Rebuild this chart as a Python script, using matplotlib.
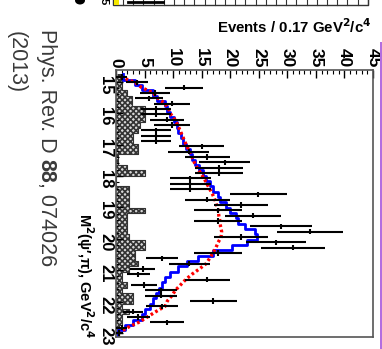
import numpy as np
import matplotlib
matplotlib.use("Agg")
import matplotlib.pyplot as plt
from matplotlib.patches import Rectangle, Ellipse
from matplotlib.lines import Line2D

plt.rcParams['font.family'] = ['Liberation Sans', 'DejaVu Sans']
plt.rcParams['hatch.linewidth'] = 1.2

# ---- data (M^2 bins of 0.17 GeV^2/c^4) ----
first_center = 14.84
bin_width = 0.17
data_counts = [1.0, 3.7, 11.9, 6.8, 5.8, 9.8, 7.0, 7.0, 8.9, 9.8,
               7.0, 7.0, 7.0, 15.0, 12.7, 16.0, 19.0, 18.0, 18.0, 13.0,
               13.0, 13.0, 24.9, 16.0, 21.9, 17.9, 24.0, 17.9, 28.9, 34.0,
               21.9, 28.0, 31.0, 17.9, 8.0, 12.8, 4.7, 3.9, 16.0, 4.9,
               7.9, 7.9, 17.0, 8.0, 3.0, 3.9, 8.9, 1.0, 0.5]
data_errors = [1.0, 1.9, 3.4, 2.6, 2.4, 3.1, 2.6, 2.6, 3.0, 3.1,
               2.6, 2.6, 2.6, 3.9, 3.6, 4.0, 4.4, 4.2, 4.2, 3.6,
               3.6, 3.6, 5.0, 4.0, 4.7, 4.2, 4.9, 4.2, 5.4, 5.8,
               4.7, 5.3, 5.6, 4.2, 2.8, 3.6, 2.2, 2.0, 4.0, 2.2,
               2.8, 2.8, 4.1, 2.8, 1.7, 2.0, 3.0, 1.0, 0.7]
background = [0.7, 1.0, 1.0, 2.0, 2.8, 2.8, 5.1, 5.1, 5.1, 4.2,
              3.9, 3.0, 3.0, 3.9, 3.9, 0.4, 0.4, 2.0, 5.0, 0.0,
              0.0, 2.2, 2.2, 2.2, 2.2, 5.0, 2.0, 2.0, 2.0, 2.0,
              2.3, 5.0, 5.0, 3.3, 3.3, 3.9, 2.2, 1.0, 1.0, 2.0,
              1.0, 3.0, 3.0, 1.0, 2.2, 1.0, 1.0, 0.5, 0.5]
fit_blue = [1.2, 3.3, 4.5, 6.5, 7.2, 8.5, 9.0, 9.5, 10.2, 10.6,
            10.9, 11.3, 11.7, 12.3, 13.0, 13.3, 13.8, 14.5, 15.2, 15.8,
            16.5, 17.0, 17.8, 18.2, 19.2, 20.0, 21.0, 21.4, 22.6, 24.3,
            24.7, 23.0, 20.3, 17.0, 14.4, 12.4, 10.8, 9.5, 8.5, 8.0,
            7.5, 7.0, 6.5, 6.0, 5.0, 4.5, 3.0, 1.5, 0.3]
fit_red = [0.8, 3.3, 4.5, 6.5, 7.3, 8.6, 9.2, 9.6, 10.3, 10.8,
           11.2, 11.6, 12.0, 12.4, 12.9, 13.3, 13.7, 14.2, 14.8, 15.4,
           15.9, 16.4, 16.9, 17.3, 17.6, 17.9, 18.0, 18.2, 18.3, 18.5,
           18.4, 17.9, 17.5, 17.0, 16.4, 15.8, 14.6, 13.3, 12.2, 11.3,
           10.4, 9.8, 9.0, 8.6, 7.0, 5.5, 4.0, 2.0, 0.5]
m2_ticks = [15, 16, 17, 18, 19, 20, 21, 22, 23]
ev_ticks = [0, 5, 10, 15, 20, 25, 30, 35, 40, 45]

n = len(data_counts)
centers = first_center + bin_width * np.arange(n)
edges = np.concatenate([centers - bin_width / 2, [centers[-1] + bin_width / 2]])

def step_xy(vals):
    ys = np.repeat(edges, 2)[1:-1]
    xs = np.repeat(np.asarray(vals, float), 2)
    return xs, ys

W, H = 382, 349
fig = plt.figure(figsize=(W / 100, H / 100), dpi=100)

x0, x1 = 116, 373
y0, y1 = 70, 337
ax = fig.add_axes([x0 / W, 1 - y1 / H, (x1 - x0) / W, (y1 - y0) / H])
ax.set_xlim(0, 45)
ax.set_ylim(23.13, 14.62)

# background hatched histogram
bx, by = step_xy(background)
ax.fill_betweenx(by, 0, bx, facecolor='#d8d8d8', edgecolor='#333333',
                 hatch='xxxxxx', linewidth=0, zorder=1)
ax.plot(bx, by, color='#333333', lw=0.8, zorder=1.5)

# blue histogram
fx, fy = step_xy(fit_blue)
ax.plot(fx, fy, color='#0000ff', lw=2.0, zorder=2)

# red dotted curve
ax.plot(fit_red, centers, color='#ff0000', lw=2.4, linestyle=(0, (0.8, 0.8)),
        zorder=3)

# data points
ax.errorbar(data_counts, centers, xerr=data_errors, yerr=bin_width / 2,
            fmt='none', ecolor='black', elinewidth=1.5, capsize=0, zorder=4)

# axes styling
for s in ax.spines.values():
    s.set_color('#555555')
    s.set_linewidth(1.2)
ax.xaxis.set_ticks_position('top')
ax.xaxis.set_label_position('top')
ax.set_xticks(ev_ticks)
ax.set_xticks(np.arange(0, 46, 1), minor=True)
ax.set_yticks(m2_ticks)
ax.set_yticks(np.arange(14.8, 23.13, 0.2), minor=True)
ax.tick_params(axis='x', which='major', direction='in', length=6, width=1,
               labelsize=12.5, labelrotation=-90, pad=2, top=True, bottom=False,
               labeltop=True, labelbottom=False)
ax.tick_params(axis='x', which='minor', direction='in', length=3, width=0.8,
               top=True, bottom=False)
ax.tick_params(axis='y', which='major', direction='in', length=5, width=1,
               labelsize=12, labelrotation=-90, pad=2, left=True, right=False)
ax.tick_params(axis='y', which='minor', direction='in', length=2.5, width=0.8,
               left=True, right=False)
for lab in ax.get_xticklabels() + ax.get_yticklabels():
    lab.set_fontweight('bold')

# axis titles
fig.text(372 / W, 1 - 27 / H, r'Events / 0.17 GeV$^\mathbf{2}$/c$^\mathbf{4}$',
         ha='right', va='center', fontsize=10.8, fontweight='bold')
fig.text(85 / W, 1 - 339 / H, r'M$^\mathbf{2}$(ψ′,π), GeV$^\mathbf{2}$/c$^\mathbf{4}$',
         ha='center', va='bottom', rotation=-90, fontsize=10.5,
         fontweight='bold')

# citation
cite_color = '#3a3a3a'
cite_size = 15.5
t1 = fig.text(46 / W, 1 - 29 / H, 'Phys. Rev. D ', ha='center', va='top',
              rotation=-90, fontsize=cite_size, color=cite_color)
fig.canvas.draw()
bb = t1.get_window_extent()
t2 = fig.text(46 / W, bb.y0 / H, '88', ha='center', va='top', rotation=-90,
              fontsize=cite_size, color=cite_color, fontweight='bold')
fig.canvas.draw()
bb2 = t2.get_window_extent()
fig.text(46 / W, bb2.y0 / H, ', 074026', ha='center', va='top',
         rotation=-90, fontsize=cite_size, color=cite_color)
fig.text(16 / W, 1 - 31 / H, '(2013)', ha='center', va='top',
         rotation=-90, fontsize=cite_size, color=cite_color)

# purple edge line
fig.add_artist(Rectangle((379.5 / W, 0), 2.5 / W, 1 - 42 / H,
                         transform=fig.transFigure, facecolor='#b36ee0',
                         edgecolor='none'))

# top strip (cut-off panel above)
strip_bot = 1 - 4.5 / H
fig.add_artist(Rectangle((113 / W, strip_bot), (368 - 113) / W, 0.03,
                         transform=fig.transFigure, facecolor='white',
                         edgecolor='#333333', linewidth=1.0))
fig.add_artist(Rectangle((113.5 / W, strip_bot), 5 / W, 0.03,
                         transform=fig.transFigure, facecolor='#f5e800',
                         edgecolor='none'))
for xp in np.arange(123, 368, 10.2):
    fig.add_artist(Line2D([xp / W, xp / W], [strip_bot, 1],
                          transform=fig.transFigure, color='#333333', lw=0.8))
fig.add_artist(Line2D([128 / W, 163 / W], [1 - 2 / H, 1 - 2 / H],
                      transform=fig.transFigure, color='black', lw=2))
fig.add_artist(Ellipse((80 / W, 1 - 0.5 / H), 10 / W, 8 / H,
                       transform=fig.transFigure, facecolor='black'))
fig.text(104 / W, 1 + 2 / H, '5', ha='center', va='top', rotation=-90,
         fontsize=8, fontweight='bold')

fig.savefig('out.png', dpi=100)
